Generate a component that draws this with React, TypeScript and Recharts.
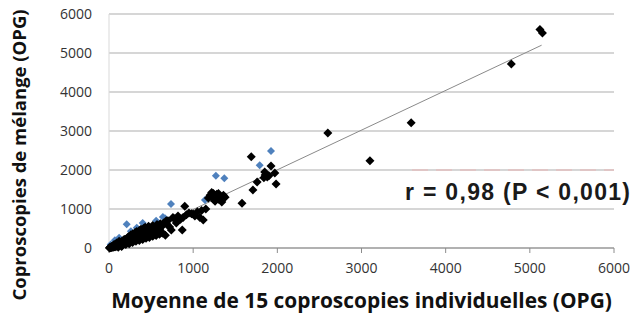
import { ScatterChart, Scatter, XAxis, YAxis, CartesianGrid, ReferenceLine } from 'recharts'

const xTicks = [0, 1000, 2000, 3000, 4000, 5000, 6000]
const yTicks = [0, 1000, 2000, 3000, 4000, 5000, 6000]

// individual means (x) vs pooled count (y), in OPG
const blackPoints: [number, number][] = [
  [5, 0], [10, 10], [15, 5], [20, 25], [25, 10], [30, 35], [35, 15], [40, 50], [45, 30], [50, 20],
  [55, 65], [60, 40], [65, 30], [70, 80], [75, 55], [80, 35], [85, 95], [90, 70], [95, 50], [100, 110],
  [105, 85], [110, 60], [115, 130], [120, 95], [125, 75], [130, 145], [135, 110], [140, 80], [145, 160],
  [150, 125], [155, 95], [160, 180], [165, 140], [170, 110], [175, 195], [180, 155], [185, 120], [190, 215],
  [195, 170], [200, 135], [205, 230], [210, 185], [215, 150], [220, 250], [225, 200], [230, 165], [235, 270],
  [240, 215], [245, 180], [250, 290], [255, 230], [260, 190], [265, 300], [270, 245], [275, 205], [280, 320],
  [285, 260], [290, 220], [295, 335], [300, 275], [305, 235], [310, 350], [315, 290], [320, 250], [325, 370],
  [330, 305], [335, 265], [340, 385], [345, 320], [350, 280], [355, 400], [360, 335], [365, 300], [370, 410],
  [375, 350], [380, 310], [385, 430], [390, 370], [395, 320], [400, 450], [410, 390], [420, 340], [425, 470],
  [435, 410], [440, 350], [450, 480], [460, 420], [470, 380], [480, 460], [490, 400], [500, 440], [510, 500],
  [520, 420], [540, 460], [560, 510], [580, 420], [600, 480], [620, 400], [640, 380], [650, 640], [670, 330],
  [160, 70], [200, 90], [240, 110], [280, 140], [320, 170], [360, 190], [400, 220], [440, 250], [480, 270],
  [520, 300], [560, 320], [600, 350], [180, 220], [230, 290], [280, 360], [330, 420], [380, 480], [430, 530],
  [470, 560], [520, 580], [570, 600], [610, 620], [120, 170], [90, 130], [60, 90], [150, 40], [110, 20],
  [260, 340], [310, 400], [360, 450], [410, 500], [460, 520], [550, 540], [590, 560], [630, 560], [680, 700],
  [690, 600], [700, 700], [720, 540], [740, 460], [760, 780], [780, 750], [800, 640], [820, 820], [850, 740],
  [870, 460], [880, 780], [900, 1070], [920, 850], [950, 900], [980, 880], [1000, 870], [1020, 820],
  [1050, 930], [1080, 780], [1100, 960], [1120, 720], [1150, 1000], [1180, 1280], [1200, 1350], [1220, 1420],
  [1240, 1400], [1240, 1250], [1260, 1200], [1280, 1380], [1300, 1250], [1300, 1400], [1320, 1300],
  [1340, 1180], [1360, 1350], [1380, 1300], [1580, 1150], [1690, 2340], [1710, 1490], [1760, 1690],
  [1840, 1800], [1855, 1870], [1850, 1950], [1880, 1820], [1900, 1850], [1925, 2100], [1970, 1920],
  [1985, 1640], [2600, 2950], [3100, 2240], [3590, 3210], [4780, 4720], [5120, 5600], [5150, 5510],
]

const bluePoints: [number, number][] = [
  [20, 90], [70, 200], [120, 260], [210, 610], [260, 430], [330, 520], [400, 640], [560, 700],
  [640, 795], [665, 760], [737, 1130], [1140, 1230], [1270, 1850], [1370, 1790], [1790, 2120], [1925, 2490],
]

const trendLine = [{ x: 30, y: 0 }, { x: 5140, y: 5200 }]

const black = blackPoints.map(([x, y]) => ({ x, y }))
const blue = bluePoints.map(([x, y]) => ({ x, y }))

const diamond = (color: string, r: number) => (p: any) => {
  const { cx, cy } = p
  if (cx == null || cy == null) return <g />
  return <polygon points={`${cx},${cy - r} ${cx + r},${cy} ${cx},${cy + r} ${cx - r},${cy}`} fill={color} />
}

const font = '"Open Sans", "DejaVu Sans", sans-serif'

const yTitle = (p: any) => {
  const cx = 18
  const cy = 155
  return (
    <text x={cx} y={cy} transform={`rotate(-90 ${cx} ${cy})`} textAnchor="middle" dominantBaseline="central"
      style={{ fontSize: 18.5, fontWeight: 700, fill: '#111', fontFamily: font }}>
      Coproscopies de mélange (OPG)
    </text>
  )
}

export default function App() {
  return (
    <div style={{ position: 'absolute', left: 0, top: 0, width: 638, height: 315, background: '#fff', fontFamily: font }}>
      <ScatterChart width={638} height={315} margin={{ top: 14, right: 24, bottom: 0, left: 0 }}>
        <CartesianGrid vertical={false} stroke="#adadad" />
        <XAxis
          type="number" dataKey="x" domain={[0, 6000]} ticks={xTicks} interval={0}
          height={67} tickSize={5} tickMargin={10}
          axisLine={{ stroke: '#8c8c8c' }} tickLine={{ stroke: '#8c8c8c' }}
          tick={{ fontSize: 14, fill: '#333', fontFamily: font }}
          label={{ value: 'Moyenne de 15 coproscopies individuelles (OPG)', position: 'insideBottom', offset: 7, style: { fontSize: 20.9, fontWeight: 700, fill: '#111', fontFamily: font } }}
        />
        <YAxis
          type="number" dataKey="y" domain={[0, 6000]} ticks={yTicks} interval={0}
          width={109} tickSize={0} tickMargin={17}
          axisLine={{ stroke: '#d9d9d9' }} tickLine={false}
          tick={{ fontSize: 14, fill: '#333', fontFamily: font }}
          label={{ value: 'Coproscopies de mélange (OPG)', content: yTitle }}
        />
        <ReferenceLine segment={[{ x: 3600, y: 2000 }, { x: 6000, y: 2000 }]} stroke="#f4a8a8" strokeDasharray="16 8" strokeOpacity={0.7} />
        <Scatter data={blue} fill="#4f81bd" shape={diamond('#4f81bd', 4)} isAnimationActive={false} />
        <Scatter data={black} fill="#000" shape={diamond('#000', 4.5)} isAnimationActive={false} />
        <ReferenceLine segment={trendLine} stroke="#8a8a8a" strokeWidth={1} />
      </ScatterChart>
      <div style={{ position: 'absolute', left: 405, top: 179, fontSize: 23, fontWeight: 700, letterSpacing: 1.3, color: '#1a1a1a', whiteSpace: 'nowrap', fontFamily: '"Liberation Sans", Arial, sans-serif' }}>
        r = 0,98 (P &lt; 0,001)
      </div>
    </div>
  )
}
